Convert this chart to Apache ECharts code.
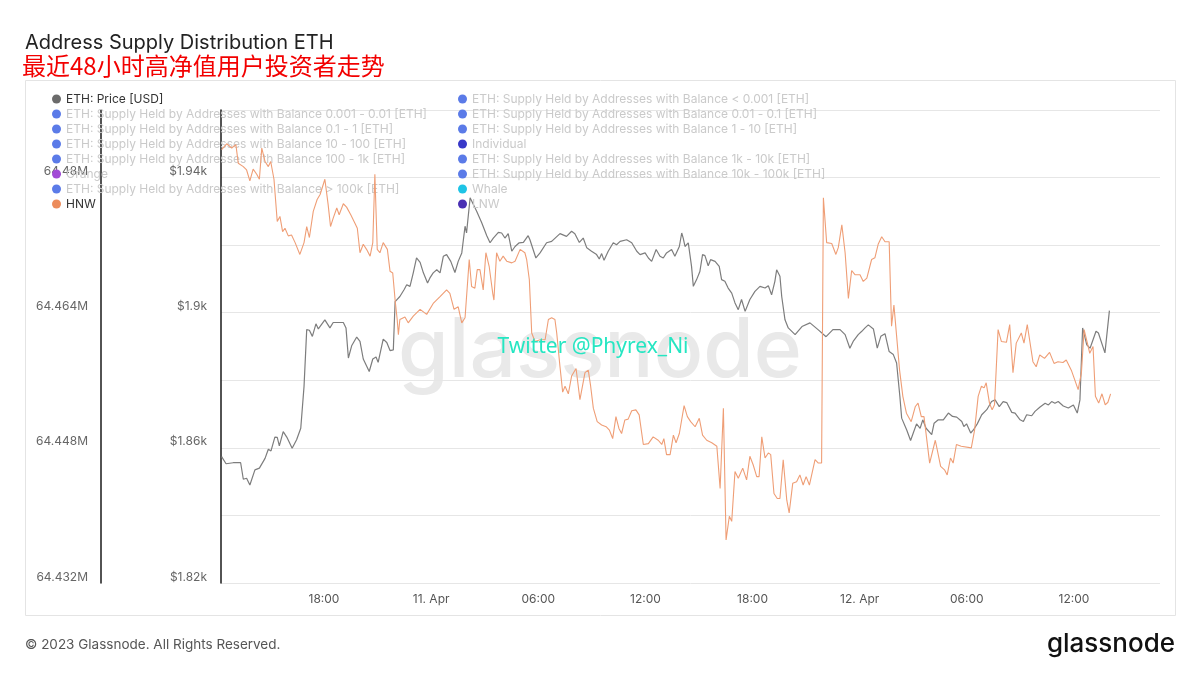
<!DOCTYPE html>
<html><head><meta charset="utf-8">
<script src="https://cdn.jsdelivr.net/npm/echarts@6/dist/echarts.min.js"></script>
<style>html,body{margin:0;padding:0;background:#fff}#c{width:1200px;height:675px}</style>
</head><body><div id="c"></div>
<script>
const titleText = 'Address Supply Distribution ETH';
const subtitleText = '最近48小时高净值用户投资者走势';
const watermarkText = 'glassnode';
const creditText = 'Twitter @Phyrex_Ni';
const footerText = '© 2023 Glassnode. All Rights Reserved.';
const logoText = 'glassnode';
const monthName = 'Apr';
const xRange = ['10 12:14', '12 16:49'];
const priceRange = [1820, 1960];
const hnwRange = [64.432, 64.488];

const legendCol1 = ['ETH: Price [USD]',
  'ETH: Supply Held by Addresses with Balance 0.001 - 0.01 [ETH]',
  'ETH: Supply Held by Addresses with Balance 0.1 - 1 [ETH]',
  'ETH: Supply Held by Addresses with Balance 10 - 100 [ETH]',
  'ETH: Supply Held by Addresses with Balance 100 - 1k [ETH]',
  'Orange',
  'ETH: Supply Held by Addresses with Balance > 100k [ETH]',
  'HNW'];
const legendCol2 = ['ETH: Supply Held by Addresses with Balance < 0.001 [ETH]',
  'ETH: Supply Held by Addresses with Balance 0.01 - 0.1 [ETH]',
  'ETH: Supply Held by Addresses with Balance 1 - 10 [ETH]',
  'Individual',
  'ETH: Supply Held by Addresses with Balance 1k - 10k [ETH]',
  'ETH: Supply Held by Addresses with Balance 10k - 100k [ETH]',
  'Whale',
  'LNW'];

const priceData = [["10 12:16",1857.4],["10 12:31",1855.3],["10 12:55",1855.6],["10 13:20",1855.6],["10 13:29",1850.7],["10 13:40",1851.0],["10 13:51",1849.0],["10 14:08",1853.5],["10 14:23",1854.0],["10 14:42",1856.9],["10 14:53",1859.6],["10 15:02",1859.1],["10 15:15",1863.2],["10 15:23",1863.1],["10 15:30",1860.6],["10 15:43",1864.8],["10 15:55",1863.2],["10 16:13",1859.9],["10 16:28",1862.4],["10 16:42",1865.8],["10 16:53",1878.2],["10 17:02",1895.0],["10 17:11",1894.8],["10 17:21",1893.0],["10 17:33",1896.7],["10 17:41",1895.2],["10 18:03",1897.9],["10 18:20",1895.5],["10 18:31",1897.1],["10 19:05",1897.1],["10 19:14",1895.5],["10 19:22",1886.6],["10 19:33",1890.2],["10 19:50",1892.8],["10 20:01",1891.5],["10 20:12",1886.3],["10 20:32",1882.6],["10 20:44",1886.3],["10 20:55",1886.9],["10 21:02",1885.3],["10 21:19",1892.2],["10 21:31",1891.2],["10 21:42",1888.8],["10 21:53",1889.0],["10 21:59",1903.3],["10 22:15",1904.8],["10 22:29",1906.8],["10 22:38",1908.3],["10 22:49",1907.8],["10 23:00",1911.8],["10 23:11",1916.2],["10 23:23",1914.9],["10 23:34",1911.8],["10 23:48",1908.8],["10 23:56",1910.3],["11 00:07",1911.8],["11 00:19",1912.7],["11 00:30",1911.8],["11 00:41",1916.7],["11 00:52",1917.2],["11 01:06",1915.2],["11 01:20",1911.9],["11 01:31",1915.2],["11 01:43",1917.7],["11 01:54",1925.6],["11 01:59",1923.6],["11 02:11",1934.0],["11 02:22",1932.0],["11 02:33",1930.0],["11 02:50",1926.6],["11 03:07",1922.8],["11 03:18",1920.7],["11 03:29",1922.1],["11 03:46",1923.8],["11 03:57",1923.6],["11 04:08",1922.1],["11 04:19",1923.4],["11 04:31",1918.2],["11 04:42",1919.6],["11 04:56",1920.7],["11 05:10",1920.8],["11 05:26",1922.8],["11 05:32",1921.6],["11 05:52",1916.2],["11 06:06",1917.7],["11 06:28",1920.7],["11 06:45",1921.1],["11 07:13",1923.4],["11 07:35",1922.6],["11 07:52",1924.1],["11 08:03",1923.4],["11 08:18",1920.8],["11 08:31",1922.1],["11 08:43",1919.2],["11 08:59",1918.2],["11 09:16",1917.2],["11 09:25",1915.9],["11 09:33",1917.5],["11 09:41",1915.5],["11 09:55",1918.2],["11 10:12",1920.7],["11 10:23",1920.1],["11 10:35",1921.1],["11 10:57",1921.6],["11 11:14",1920.7],["11 11:31",1918.2],["11 11:42",1917.2],["11 11:59",1917.7],["11 12:10",1916.2],["11 12:21",1915.2],["11 12:36",1918.7],["11 12:49",1916.7],["11 13:00",1916.2],["11 13:11",1917.7],["11 13:28",1918.7],["11 13:39",1916.7],["11 13:54",1919.6],["11 14:02",1923.6],["11 14:07",1922.1],["11 14:13",1919.6],["11 14:24",1920.7],["11 14:35",1913.7],["11 14:41",1907.8],["11 14:52",1909.8],["11 15:03",1912.2],["11 15:12",1917.2],["11 15:20",1916.9],["11 15:31",1913.9],["11 15:39",1915.7],["11 15:54",1915.2],["11 16:08",1913.7],["11 16:16",1909.8],["11 16:27",1909.3],["11 16:38",1907.3],["11 16:50",1905.8],["11 17:01",1902.9],["11 17:12",1900.9],["11 17:23",1903.9],["11 17:35",1900.4],["11 17:51",1903.9],["11 18:08",1906.3],["11 18:25",1907.8],["11 18:42",1907.3],["11 18:53",1908.0],["11 19:04",1905.3],["11 19:15",1909.3],["11 19:21",1912.7],["11 19:32",1910.8],["11 19:38",1904.8],["11 19:49",1897.9],["11 20:00",1895.5],["11 20:23",1893.5],["11 20:46",1895.9],["11 21:13",1897.0],["11 21:40",1895.0],["11 22:07",1892.9],["11 22:30",1895.0],["11 22:54",1895.0],["11 23:11",1893.5],["11 23:27",1889.5],["11 23:38",1891.5],["11 23:55",1893.5],["12 00:07",1894.5],["12 00:18",1895.5],["12 00:29",1896.4],["12 00:46",1895.2],["12 00:59",1889.5],["12 01:11",1893.0],["12 01:25",1893.8],["12 01:39",1888.5],["12 01:53",1887.6],["12 02:04",1885.1],["12 02:15",1875.2],["12 02:21",1868.8],["12 02:38",1865.3],["12 02:51",1862.2],["12 03:00",1864.4],["12 03:11",1867.1],["12 03:23",1865.8],["12 03:32",1868.3],["12 03:43",1865.8],["12 04:02",1863.9],["12 04:10",1867.3],["12 04:24",1868.3],["12 04:41",1868.3],["12 04:58",1870.3],["12 05:12",1869.3],["12 05:26",1869.1],["12 05:43",1867.8],["12 05:50",1866.3],["12 05:59",1867.1],["12 06:13",1864.4],["12 06:22",1865.3],["12 06:35",1867.1],["12 06:50",1869.8],["12 07:07",1871.3],["12 07:23",1873.7],["12 07:35",1874.2],["12 07:49",1872.2],["12 08:02",1873.7],["12 08:14",1873.4],["12 08:31",1870.5],["12 08:42",1870.3],["12 08:59",1868.3],["12 09:10",1867.8],["12 09:21",1869.8],["12 09:38",1869.5],["12 09:49",1870.8],["12 10:06",1872.1],["12 10:23",1873.2],["12 10:34",1872.7],["12 10:45",1873.7],["12 10:56",1873.2],["12 11:07",1873.7],["12 11:24",1872.4],["12 11:41",1871.8],["12 11:58",1872.7],["12 12:11",1870.3],["12 12:20",1874.2],["12 12:29",1895.5],["12 12:43",1890.5],["12 12:54",1889.5],["12 13:14",1894.5],["12 13:22",1894.0],["12 13:44",1888.1],["12 13:50",1887.6],["12 13:59",1900.6]];

const hnwData = [["10 12:16",64.4833],["10 12:33",64.4840],["10 12:50",64.4835],["10 13:04",64.4839],["10 13:12",64.4817],["10 13:29",64.4813],["10 13:40",64.4809],["10 13:51",64.4796],["10 14:02",64.4810],["10 14:14",64.4804],["10 14:23",64.4798],["10 14:31",64.4835],["10 14:42",64.4819],["10 14:53",64.4813],["10 15:01",64.4819],["10 15:12",64.4798],["10 15:23",64.4748],["10 15:32",64.4754],["10 15:41",64.4736],["10 15:49",64.4740],["10 16:00",64.4731],["10 16:11",64.4732],["10 16:23",64.4723],["10 16:39",64.4709],["10 16:53",64.4723],["10 17:02",64.4742],["10 17:11",64.4729],["10 17:24",64.4760],["10 17:37",64.4774],["10 17:47",64.4780],["10 18:03",64.4798],["10 18:14",64.4768],["10 18:22",64.4742],["10 18:31",64.4752],["10 18:43",64.4764],["10 18:51",64.4756],["10 19:05",64.4769],["10 19:16",64.4765],["10 19:30",64.4756],["10 19:44",64.4746],["10 19:52",64.4740],["10 20:01",64.4711],["10 20:12",64.4721],["10 20:23",64.4715],["10 20:35",64.4707],["10 20:44",64.4723],["10 20:51",64.4804],["10 20:59",64.4715],["10 21:08",64.4711],["10 21:19",64.4723],["10 21:33",64.4715],["10 21:42",64.4689],["10 21:51",64.4687],["10 21:59",64.4655],["10 22:06",64.4632],["10 22:10",64.4614],["10 22:15",64.4632],["10 22:32",64.4635],["10 22:43",64.4628],["10 23:00",64.4636],["10 23:23",64.4644],["10 23:45",64.4638],["11 00:07",64.4651],["11 00:30",64.4659],["11 00:52",64.4667],["11 01:03",64.4663],["11 01:17",64.4644],["11 01:31",64.4647],["11 01:43",64.4628],["11 01:54",64.4634],["11 02:08",64.4703],["11 02:16",64.4671],["11 02:27",64.4669],["11 02:35",64.4691],["11 02:44",64.4691],["11 02:55",64.4667],["11 03:04",64.4711],["11 03:15",64.4695],["11 03:27",64.4663],["11 03:31",64.4655],["11 03:40",64.4711],["11 03:51",64.4701],["11 04:02",64.4707],["11 04:14",64.4701],["11 04:31",64.4699],["11 04:42",64.4701],["11 04:59",64.4715],["11 05:15",64.4711],["11 05:21",64.4703],["11 05:30",64.4679],["11 05:38",64.4616],["11 05:49",64.4606],["11 06:06",64.4608],["11 06:23",64.4608],["11 06:34",64.4632],["11 06:45",64.4634],["11 06:56",64.4632],["11 07:02",64.4616],["11 07:13",64.4576],["11 07:22",64.4546],["11 07:30",64.4553],["11 07:41",64.4544],["11 07:52",64.4565],["11 08:07",64.4574],["11 08:20",64.4537],["11 08:37",64.4569],["11 08:48",64.4572],["11 08:56",64.4553],["11 09:05",64.4527],["11 09:18",64.4511],["11 09:33",64.4507],["11 09:48",64.4505],["11 09:59",64.4501],["11 10:10",64.4491],["11 10:21",64.4517],["11 10:31",64.4503],["11 10:40",64.4497],["11 10:51",64.4513],["11 11:02",64.4514],["11 11:14",64.4524],["11 11:28",64.4525],["11 11:39",64.4519],["11 11:53",64.4484],["11 12:10",64.4485],["11 12:26",64.4493],["11 12:43",64.4489],["11 12:55",64.4484],["11 13:02",64.4491],["11 13:11",64.4472],["11 13:23",64.4472],["11 13:34",64.4495],["11 13:43",64.4486],["11 13:54",64.4497],["11 14:10",64.4530],["11 14:21",64.4517],["11 14:32",64.4511],["11 14:47",64.4505],["11 15:01",64.4515],["11 15:12",64.4495],["11 15:26",64.4489],["11 15:43",64.4486],["11 16:00",64.4482],["11 16:11",64.4432],["11 16:22",64.4527],["11 16:31",64.4371],["11 16:42",64.4399],["11 16:50",64.4393],["11 17:01",64.4452],["11 17:12",64.4444],["11 17:27",64.4456],["11 17:40",64.4442],["11 17:51",64.4470],["11 18:02",64.4460],["11 18:14",64.4446],["11 18:22",64.4446],["11 18:31",64.4493],["11 18:42",64.4468],["11 18:53",64.4474],["11 19:01",64.4472],["11 19:12",64.4426],["11 19:23",64.4420],["11 19:32",64.4420],["11 19:43",64.4466],["11 19:55",64.4418],["11 20:03",64.4403],["11 20:15",64.4438],["11 20:28",64.4440],["11 20:39",64.4448],["11 20:50",64.4436],["11 21:00",64.4446],["11 21:11",64.4436],["11 21:30",64.4466],["11 21:41",64.4462],["11 21:52",64.4462],["11 21:58",64.4776],["11 22:09",64.4723],["11 22:26",64.4722],["11 22:40",64.4709],["11 22:48",64.4717],["11 23:00",64.4744],["11 23:11",64.4711],["11 23:22",64.4657],["11 23:33",64.4690],["11 23:44",64.4685],["12 00:01",64.4685],["12 00:12",64.4677],["12 00:24",64.4681],["12 00:40",64.4703],["12 00:51",64.4705],["12 01:02",64.4721],["12 01:14",64.4730],["12 01:25",64.4724],["12 01:39",64.4724],["12 01:47",64.4624],["12 01:55",64.4649],["12 02:14",64.4572],["12 02:25",64.4541],["12 02:37",64.4521],["12 02:53",64.4511],["12 03:07",64.4529],["12 03:16",64.4533],["12 03:27",64.4517],["12 03:36",64.4517],["12 03:55",64.4462],["12 04:14",64.4489],["12 04:32",64.4458],["12 04:45",64.4454],["12 04:54",64.4448],["12 05:05",64.4468],["12 05:14",64.4462],["12 05:25",64.4484],["12 05:41",64.4482],["12 06:15",64.4480],["12 06:26",64.4501],["12 06:38",64.4541],["12 06:49",64.4553],["12 06:58",64.4551],["12 07:05",64.4557],["12 07:16",64.4533],["12 07:25",64.4525],["12 07:33",64.4531],["12 07:45",64.4620],["12 07:56",64.4606],["12 08:13",64.4605],["12 08:24",64.4626],["12 08:35",64.4569],["12 08:46",64.4604],["12 09:03",64.4616],["12 09:12",64.4604],["12 09:23",64.4626],["12 09:42",64.4582],["12 09:53",64.4576],["12 10:05",64.4590],["12 10:21",64.4586],["12 10:38",64.4593],["12 10:53",64.4580],["12 11:06",64.4582],["12 11:23",64.4581],["12 11:34",64.4584],["12 11:51",64.4572],["12 12:02",64.4561],["12 12:14",64.4549],["12 12:25",64.4569],["12 12:34",64.4620],["12 12:45",64.4604],["12 12:53",64.4592],["12 13:04",64.4600],["12 13:12",64.4541],["12 13:23",64.4533],["12 13:34",64.4544],["12 13:45",64.4531],["12 13:54",64.4534],["12 14:03",64.4544]];

// x values: time measured in quarter-days (6 h) since 10 Apr 00:00
function toQ(s) {
  const parts = s.split(' ');
  const hm = parts[1].split(':').map(Number);
  return ((Number(parts[0]) - 10) * 24 + hm[0] + hm[1] / 60) / 6;
}
function xLabel(v) {
  if (Math.abs(v - Math.round(v)) > 1e-6) return '';
  const hours = Math.round(v) * 6;
  const day = 10 + Math.floor(hours / 24);
  const h = hours % 24;
  return h === 0 ? day + '. ' + monthName : (h < 10 ? '0' : '') + h + ':00';
}

const colorOf = {
  'ETH: Price [USD]': '#6b6b6b', 'HNW': '#ec8c5c', 'Orange': '#a24ad6',
  'Individual': '#3838c8', 'Whale': '#1ec4e6', 'LNW': '#4a30b4'
};
const activeNames = ['ETH: Price [USD]', 'HNW'];
function legendItems(names) {
  return names.map(n => ({ name: n, textStyle: { color: activeNames.includes(n) ? '#333' : '#cacaca' } }));
}
const dummySeries = legendCol1.concat(legendCol2).filter(n => !activeNames.includes(n)).map(n => ({
  name: n, type: 'line', data: [], itemStyle: { color: colorOf[n] || '#5b7be8' }
}));

const chart = echarts.init(document.getElementById('c'), null, { renderer: 'canvas' });
const legendBase = {
  orient: 'vertical', icon: 'circle', itemWidth: 9, itemHeight: 9, itemGap: 3,
  selectedMode: false, padding: 0,
  textStyle: { fontSize: 12, fontFamily: 'Inter', padding: [0, 0, 0, 0] }
};
chart.setOption({
  animation: false,
  backgroundColor: '#fff',
  grid: { left: 221, right: 40, top: 110, bottom: 92 },
  legend: [
    Object.assign({}, legendBase, { left: 52, top: 93, data: legendItems(legendCol1) }),
    Object.assign({}, legendBase, { left: 458, top: 93, data: legendItems(legendCol2) })
  ],
  xAxis: {
    type: 'value', min: toQ(xRange[0]), max: toQ(xRange[1]),
    minInterval: 1, maxInterval: 1, splitNumber: 9,
    axisLine: { show: false }, axisTick: { show: false }, splitLine: { show: false },
    axisLabel: { formatter: xLabel, color: '#555', fontSize: 12, fontFamily: 'Inter', margin: 10 }
  },
  yAxis: [
    {
      type: 'value', position: 'left', min: priceRange[0], max: priceRange[1], interval: 20,
      axisLine: { show: true, lineStyle: { color: '#1a1a1a', width: 1.5 } },
      axisTick: { show: false },
      splitLine: { show: true, lineStyle: { color: '#e6e6e6', width: 1 } },
      axisLabel: {
        color: '#666', fontSize: 12, fontFamily: 'Inter', margin: 14, verticalAlign: 'bottom',
        formatter: v => ((Math.round(v - priceRange[0]) % 40) === 0 ? '$' + (v / 1000) + 'k' : '')
      }
    },
    {
      type: 'value', position: 'left', offset: 120, min: hnwRange[0], max: hnwRange[1], interval: 0.008,
      axisLine: { show: true, lineStyle: { color: '#1a1a1a', width: 1.5 } },
      axisTick: { show: false }, splitLine: { show: false },
      axisLabel: {
        color: '#666', fontSize: 12, fontFamily: 'Inter', margin: 13, verticalAlign: 'bottom',
        formatter: v => (Math.round((v - hnwRange[0]) / 0.008) % 2 === 0 ? (Math.round(v * 1000) / 1000) + 'M' : '')
      }
    }
  ],
  series: [
    {
      name: 'ETH: Price [USD]', type: 'line', yAxisIndex: 0, showSymbol: false, symbol: 'none',
      data: priceData.map(d => [toQ(d[0]), d[1]]),
      itemStyle: { color: '#6b6b6b' }, lineStyle: { color: '#7d7d7d', width: 1.2 }, z: 3
    },
    {
      name: 'HNW', type: 'line', yAxisIndex: 1, showSymbol: false, symbol: 'none',
      data: hnwData.map(d => [toQ(d[0]), d[1]]),
      itemStyle: { color: '#ec8c5c' }, lineStyle: { color: '#ef9e76', width: 1.1 }, z: 4
    }
  ].concat(dummySeries),
  graphic: [
    { type: 'rect', shape: { x: 25.5, y: 80.5, width: 1150, height: 535 }, style: { fill: 'none', stroke: '#e4e4e4', lineWidth: 1 }, z: -10 },
    { type: 'text', x: 600, y: 352, z: -5, style: { text: watermarkText, fill: '#e9e9e9', fontSize: 82, fontFamily: 'Inter', fontWeight: 500, textAlign: 'center', textVerticalAlign: 'middle', verticalAlign: 'middle' } },
    { type: 'text', x: 593, y: 347, z: 20, style: { text: creditText, fill: '#25e6c2', fontSize: 21, fontFamily: 'Noto Sans', textAlign: 'center', textVerticalAlign: 'middle', verticalAlign: 'middle' } },
    { type: 'text', x: 25, y: 43, style: { text: titleText, fill: '#222', fontSize: 20, fontFamily: 'Inter', textVerticalAlign: 'middle', verticalAlign: 'middle' } },
    { type: 'text', x: 22, y: 66, style: { text: subtitleText, fill: '#f20000', fontSize: 24, fontFamily: 'Noto Sans CJK SC', textVerticalAlign: 'middle', verticalAlign: 'middle' } },
    { type: 'text', x: 25, y: 645, style: { text: footerText, fill: '#555', fontSize: 13.5, fontFamily: 'Inter', textVerticalAlign: 'middle', verticalAlign: 'middle' } },
    { type: 'text', x: 1175, y: 644, style: { text: logoText, fill: '#111', fontSize: 26, fontFamily: 'Inter', fontWeight: 500, textAlign: 'right', textVerticalAlign: 'middle', verticalAlign: 'middle' } }
  ]
});
</script>
</body></html>
